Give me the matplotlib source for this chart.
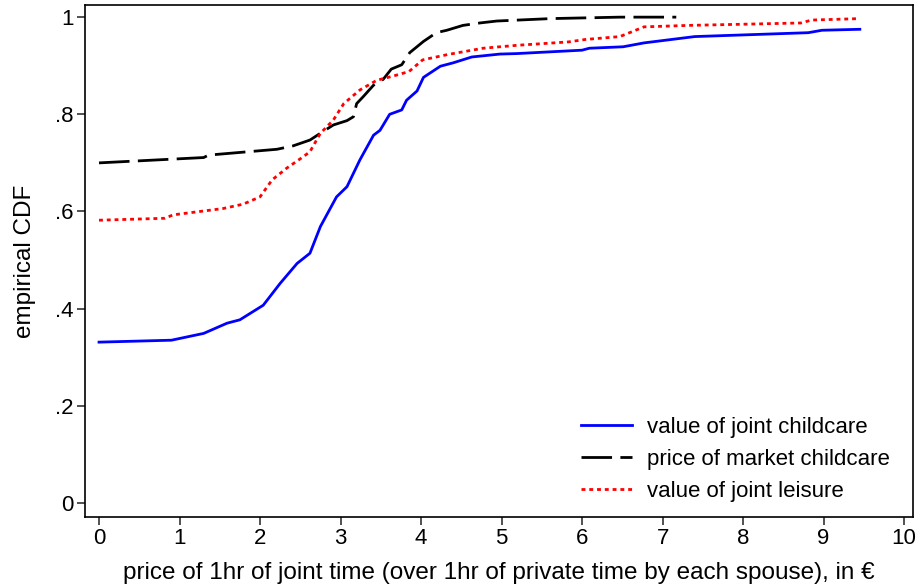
import numpy as np
import matplotlib
matplotlib.use("Agg")
import matplotlib.pyplot as plt

plt.rcParams['font.family'] = ['Liberation Sans', 'DejaVu Sans']

# empirical CDFs
x_care = [0.0, 0.90, 1.30, 1.59, 1.75, 2.04, 2.25, 2.46, 2.62, 2.75, 2.95, 3.08,
          3.24, 3.41, 3.49, 3.61, 3.76, 3.82, 3.95, 4.03, 4.24, 4.40, 4.63, 4.98,
          5.19, 6.00, 6.09, 6.51, 6.77, 7.40, 8.81, 8.98, 9.45]
y_care = [0.331, 0.335, 0.349, 0.370, 0.377, 0.407, 0.452, 0.493, 0.514, 0.569, 0.630, 0.651,
          0.706, 0.757, 0.767, 0.800, 0.809, 0.829, 0.848, 0.876, 0.899, 0.906, 0.918, 0.924,
          0.925, 0.932, 0.936, 0.939, 0.947, 0.960, 0.968, 0.973, 0.975]

x_market = [0.0, 1.30, 1.36, 2.21, 2.41, 2.62, 2.75, 2.91, 3.08, 3.16, 3.20, 3.28,
            3.41, 3.53, 3.63, 3.76, 3.86, 4.03, 4.19, 4.32, 4.52, 4.73, 4.94, 5.61, 6.47, 7.17]
y_market = [0.700, 0.711, 0.716, 0.728, 0.735, 0.747, 0.761, 0.778, 0.787, 0.795, 0.822, 0.836,
            0.860, 0.872, 0.893, 0.902, 0.927, 0.950, 0.968, 0.973, 0.983, 0.988, 0.992, 0.997, 1.0, 1.0]

x_leisure = [0.0, 0.82, 0.92, 1.54, 1.79, 2.00, 2.15, 2.33, 2.54, 2.62, 2.75, 2.91,
             3.04, 3.24, 3.45, 3.66, 3.85, 4.02, 4.33, 4.77, 5.19, 5.83, 6.04, 6.47,
             6.77, 7.32, 8.72, 8.85, 9.45]
y_leisure = [0.582, 0.586, 0.593, 0.606, 0.615, 0.630, 0.665, 0.689, 0.713, 0.723, 0.761, 0.788,
             0.822, 0.850, 0.870, 0.879, 0.888, 0.912, 0.923, 0.936, 0.942, 0.949, 0.954, 0.960,
             0.980, 0.983, 0.988, 0.994, 0.997]

xticks = np.arange(0, 11)
yticks = [0, 0.2, 0.4, 0.6, 0.8, 1.0]
ylabels = ['0', '.2', '.4', '.6', '.8', '1']

fig = plt.figure(figsize=(9.17, 5.88), dpi=100)
ax = fig.add_axes([0.0927, 0.1207, 0.9029, 0.8708])

ax.plot(x_care, y_care, color='blue', lw=2, label='value of joint childcare')
ax.plot(x_market, y_market, color='black', lw=2, dashes=(11, 3), label='price of market childcare')
ax.plot(x_leisure, y_leisure, color='red', lw=2, dashes=(1.4, 1.4), label='value of joint leisure')

ax.set_xlim(-0.174, 10.11)
ax.set_ylim(-0.029, 1.025)
ax.set_xticks(xticks)
ax.set_yticks(yticks)
ax.set_yticklabels(ylabels)
ax.tick_params(direction='out', length=6, width=1.2, labelsize=16, pad=2, color='#333333')
for s in ax.spines.values():
    s.set_linewidth(1.2)

ax.set_xlabel('price of 1hr of joint time (over 1hr of private time by each spouse), in €',
              fontsize=17.5, labelpad=9)
ax.set_ylabel('empirical CDF', fontsize=17.5, labelpad=14)

ax.legend(loc='lower right', frameon=False, fontsize=16, handlelength=2.3,
          labelspacing=0.5, handletextpad=0.65, borderpad=0,
          bbox_to_anchor=(0.985, 0.008))

fig.savefig('out.png', dpi=100)
